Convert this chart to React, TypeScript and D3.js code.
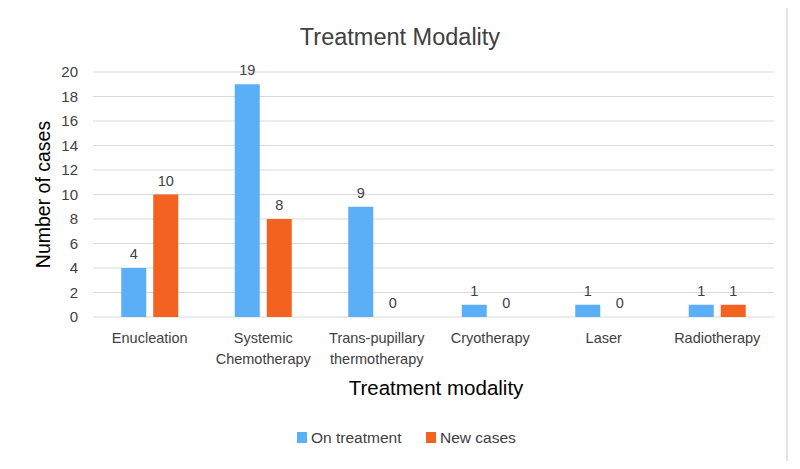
import React, { useEffect, useRef } from 'react';
import * as d3 from 'd3';

const categories = ['Enucleation', 'Systemic\nChemotherapy', 'Trans-pupillary\nthermotherapy', 'Cryotherapy', 'Laser', 'Radiotherapy'];
const onTreatment = [4, 19, 9, 1, 1, 1];
const newCases = [10, 8, 0, 0, 0, 1];
const seriesNames = ['On treatment', 'New cases'];
const seriesColors = ['#5aaff6', '#f36221'];
const yTicks = [0, 2, 4, 6, 8, 10, 12, 14, 16, 18, 20];

const W = 800;
const H = 469;
const FONT = '"Liberation Sans", Arial, sans-serif';

const App: React.FC = () => {
  const svgRef = useRef<SVGSVGElement>(null);

  useEffect(() => {
    if (!svgRef.current) return;
    const svg = d3.select(svgRef.current);
    svg.selectAll('*').remove();

    const left = 93, right = 774, top = 72, bottom = 317;

    svg.append('rect').attr('width', W).attr('height', H).attr('fill', '#fff');
    svg.append('rect')
      .attr('x', 6).attr('y', 5).attr('width', 781).attr('height', 459)
      .attr('fill', '#fff').attr('stroke', '#d9d9d9').attr('stroke-width', 1.5);

    const x = d3.scaleBand<number>().domain(d3.range(categories.length)).range([left, right]);
    const y = d3.scaleLinear().domain([0, 20]).range([bottom, top]);
    const barW = 25, gap = 7;

    // gridlines
    svg.append('g').selectAll('line')
      .data(yTicks)
      .join('line')
      .attr('x1', left).attr('x2', right)
      .attr('y1', d => y(d)).attr('y2', d => y(d))
      .attr('stroke', '#d9d9d9').attr('stroke-width', 1.2);

    svg.append('g').selectAll('text')
      .data(yTicks)
      .join('text')
      .attr('x', 78).attr('y', d => y(d))
      .attr('dy', '0.35em')
      .attr('text-anchor', 'end')
      .attr('font-size', 15).attr('font-family', FONT).attr('fill', '#404040')
      .text(d => d);

    const series = [onTreatment, newCases];
    series.forEach((vals, si) => {
      const offset = si === 0 ? -(gap / 2 + barW) : gap / 2;
      const g = svg.append('g');
      g.selectAll('rect')
        .data(vals)
        .join('rect')
        .attr('x', (_, i) => x(i)! + x.bandwidth() / 2 + offset)
        .attr('y', d => y(d))
        .attr('width', barW)
        .attr('height', d => y(0) - y(d))
        .attr('fill', seriesColors[si]);
      g.selectAll('text')
        .data(vals)
        .join('text')
        .attr('x', (_, i) => x(i)! + x.bandwidth() / 2 + offset + barW / 2)
        .attr('y', d => y(d) - 9)
        .attr('text-anchor', 'middle')
        .attr('font-size', 14.5).attr('font-family', FONT).attr('fill', '#404040')
        .text(d => d);
    });

    // category labels
    const xl = svg.append('g');
    categories.forEach((c, i) => {
      const t = xl.append('text')
        .attr('x', x(i)! + x.bandwidth() / 2)
        .attr('y', 343)
        .attr('text-anchor', 'middle')
        .attr('font-size', 14.5).attr('font-family', FONT).attr('fill', '#404040');
      c.split('\n').forEach((line, li) => {
        t.append('tspan').attr('x', x(i)! + x.bandwidth() / 2).attr('dy', li === 0 ? 0 : 21).text(line);
      });
    });

    svg.append('text')
      .attr('x', 400).attr('y', 45)
      .attr('text-anchor', 'middle')
      .attr('font-size', 23.5).attr('font-family', FONT).attr('fill', '#404040')
      .text('Treatment Modality');

    svg.append('text')
      .attr('x', 436).attr('y', 395)
      .attr('text-anchor', 'middle')
      .attr('font-size', 20.5).attr('font-family', FONT).attr('fill', '#000')
      .text('Treatment modality');

    svg.append('text')
      .attr('transform', `translate(50,${(top + bottom) / 2}) rotate(-90)`)
      .attr('text-anchor', 'middle')
      .attr('font-size', 19.5).attr('font-family', FONT).attr('fill', '#000')
      .text('Number of cases');

    // legend
    const legX = [297, 426];
    seriesNames.forEach((name, i) => {
      svg.append('rect')
        .attr('x', legX[i]).attr('y', 432).attr('width', 10).attr('height', 11)
        .attr('fill', seriesColors[i]);
      svg.append('text')
        .attr('x', legX[i] + 14).attr('y', 437.5)
        .attr('dy', '0.35em')
        .attr('font-size', 15.5).attr('font-family', FONT).attr('fill', '#404040')
        .text(name);
    });
  }, []);

  return <svg ref={svgRef} width={W} height={H} style={{ display: 'block', margin: -8 }} />;
};

export default App;
